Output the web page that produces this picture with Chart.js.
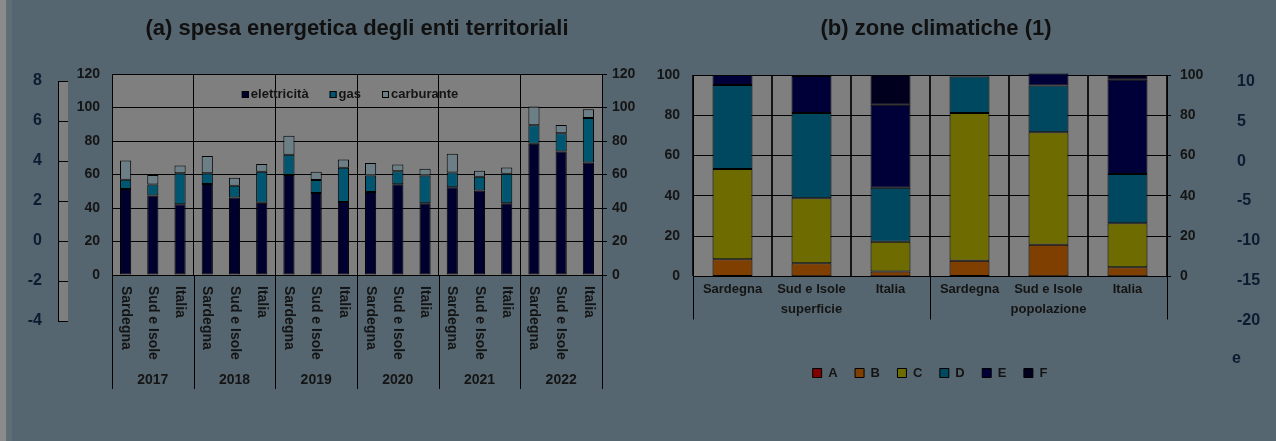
<!DOCTYPE html>
<html lang="it">
<head>
<meta charset="utf-8">
<title>Spesa energetica degli enti territoriali e zone climatiche</title>
<script src="https://cdn.jsdelivr.net/npm/chart.js@4.4.1/dist/chart.umd.min.js"></script>
<style>
  html, body { margin: 0; padding: 0; }
  body {
    width: 1276px; height: 441px; overflow: hidden; position: relative;
    background: #566670;
    font-family: "Liberation Sans", Arial, sans-serif;
  }
  .edge { position: absolute; top: 0; bottom: 0; width: 6px; }
  #edge1 { left: 0; background: #8b8b8b; }
  #edge2 { left: 6px; background: #606d75; }
  canvas { position: absolute; top: 0; }
  #scaleL { left: 0; }
  #chartA { left: 0; }
  #chartB { left: 645px; }
  #scaleR { left: 1200px; }
</style>
</head>
<body>
<div class="edge" id="edge1"></div>
<div class="edge" id="edge2"></div>
<canvas id="scaleL" width="80" height="441"></canvas>
<canvas id="chartA" width="645" height="441"></canvas>
<canvas id="chartB" width="582" height="441"></canvas>
<canvas id="scaleR" width="76" height="441"></canvas>
<script>
// (a) spesa energetica degli enti territoriali
const years = ['2017', '2018', '2019', '2020', '2021', '2022'];
const regions = ['Sardegna', 'Sud e Isole', 'Italia'];
const elettricita = [51.3, 47.4, 42.2, 54.3, 46.2, 43.2, 59.7, 49.0, 43.6, 49.6, 54.2, 42.8, 52.4, 50.4, 42.8, 78.4, 73.8, 67.2];
const gas = [5.6, 6.7, 18.5, 6.4, 7.1, 18.5, 12.1, 7.7, 20.4, 9.8, 7.8, 16.6, 8.8, 8.2, 17.6, 11.0, 10.8, 26.6];
const carburante = [11.4, 5.6, 4.6, 10.3, 4.8, 4.6, 11.4, 5.0, 5.0, 7.4, 4.0, 4.0, 11.2, 3.6, 3.8, 11.2, 5.0, 5.2];
const spesaTicks = [0, 20, 40, 60, 80, 100, 120];

// (b) zone climatiche
const zoneLabels = ['Sardegna', 'Sud e Isole', 'Italia', 'Sardegna', 'Sud e Isole', 'Italia'];
const zoneGroups = ['superficie', 'popolazione'];
const zonaA = [0, 0.1, 0.1, 0, 0.1, 0.1];
const zonaB = [8.6, 6.5, 2.4, 7.8, 15.6, 4.5];
const zonaC = [44.7, 32.2, 14.8, 73.3, 55.9, 21.8];
const zonaD = [41.7, 42.4, 26.7, 18.1, 23.2, 24.5];
const zonaE = [5.0, 18.3, 41.2, 0.8, 6.0, 46.8];
const zonaF = [0, 0.5, 14.8, 0, 0, 2.3];
const zoneTicks = [0, 20, 40, 60, 80, 100];

// side scales
const leftScaleTicks = [-4, -2, 0, 2, 4, 6, 8];
const rightScaleTicks = [-20, -15, -10, -5, 0, 5, 10];

const FONT = '"Liberation Sans", Arial, Helvetica, sans-serif';
const INK = '#141414';
const PLOT_BG = '#7f7f7f';

Chart.defaults.font.family = FONT;
Chart.defaults.font.size = 13;
Chart.defaults.font.weight = 'bold';
Chart.defaults.color = INK;
Chart.defaults.animation = false;
Chart.defaults.responsive = false;
Chart.defaults.plugins.tooltip.enabled = false;

function plotBackground(color) {
  return {
    id: 'plotBackground',
    beforeDraw(chart) {
      const a = chart.chartArea;
      const ctx = chart.ctx;
      ctx.save();
      ctx.fillStyle = color;
      ctx.fillRect(a.left, a.top, a.right - a.left, a.bottom - a.top);
      ctx.restore();
    }
  };
}

function tickRange(list) {
  return { min: list[0], max: list[list.length - 1], stepSize: list[1] - list[0] };
}

// ---------- chart (a) ----------
const categorieA = years.flatMap(() => regions);
const rA = tickRange(spesaTicks);

const decorA = {
  id: 'decorA',
  afterDraw(chart) {
    const { ctx, chartArea: a, scales: { x } } = chart;
    const step = (a.right - a.left) / categorieA.length;
    ctx.save();
    ctx.strokeStyle = '#000';
    ctx.lineWidth = 1;
    // year dividers run down through the label block
    for (let g = 0; g <= years.length; g++) {
      const px = Math.round(a.left + g * regions.length * step) + 0.5;
      ctx.beginPath();
      ctx.moveTo(px, a.bottom);
      ctx.lineTo(px, a.bottom + 114);
      ctx.stroke();
    }
    ctx.fillStyle = INK;
    ctx.font = 'bold 14px ' + FONT;
    ctx.textAlign = 'left';
    ctx.textBaseline = 'middle';
    categorieA.forEach((lab, i) => {
      ctx.save();
      ctx.translate(x.getPixelForValue(i), a.bottom + 11);
      ctx.rotate(Math.PI / 2);
      ctx.fillText(lab, 0, 0);
      ctx.restore();
    });
    ctx.textAlign = 'center';
    years.forEach((yr, g) => {
      const cx = (x.getPixelForValue(g * 3) + x.getPixelForValue(g * 3 + 2)) / 2;
      ctx.fillText(yr, cx, a.bottom + 105);
    });

    // legend sits inside the plot, along the top band
    ctx.font = 'bold 13px ' + FONT;
    const sets = chart.data.datasets;
    const box = 7, gap = 2, between = 21;
    const widths = sets.map(d => box + gap + ctx.measureText(d.label).width);
    const total = widths.reduce((s, w) => s + w, 0) + between * (sets.length - 1);
    let lx = (a.left + a.right) / 2 - 7 - total / 2;
    const ly = a.top + 20.5;
    ctx.textAlign = 'left';
    sets.forEach((d, i) => {
      ctx.fillStyle = d.backgroundColor;
      ctx.fillRect(lx, ly - box / 2, box, box);
      ctx.strokeStyle = '#000';
      ctx.strokeRect(lx + 0.5, ly - box / 2 + 0.5, box - 1, box - 1);
      ctx.fillStyle = INK;
      ctx.fillText(d.label, lx + box + gap, ly);
      lx += widths[i] + between;
    });
    ctx.restore();
  }
};

new Chart(document.getElementById('chartA'), {
  type: 'bar',
  data: {
    labels: categorieA,
    datasets: [
      { label: 'elettricità', data: elettricita, backgroundColor: '#00002e' },
      { label: 'gas', data: gas, backgroundColor: '#005670' },
      { label: 'carburante', data: carburante, backgroundColor: '#6c7f86' }
    ].map(d => Object.assign(d, {
      borderColor: '#000', borderWidth: 1, borderSkipped: false,
      barPercentage: 0.41, categoryPercentage: 1
    }))
  },
  options: {
    layout: { padding: 0 },
    plugins: {
      legend: { display: false },
      title: {
        display: true,
        fullSize: false,
        text: '(a) spesa energetica degli enti territoriali',
        color: '#101010',
        font: { size: 22, weight: 'bold' },
        padding: { top: 16, bottom: 31.6 }
      }
    },
    scales: {
      x: {
        stacked: true,
        ticks: { display: false },
        grid: {
          offset: true,
          drawTicks: false,
          color: c => (c.index !== undefined && c.index % 3 === 0) ? '#000' : 'rgba(0,0,0,0)'
        },
        border: { display: true, color: '#000' },
        afterFit: s => { s.height = 166; }
      },
      y: {
        stacked: true,
        min: rA.min, max: rA.max,
        ticks: { stepSize: rA.stepSize, padding: 12, color: INK, font: { size: 14 } },
        grid: { color: '#000', drawTicks: false },
        border: { color: '#000' },
        afterFit: s => { s.width = 112; }
      },
      y1: {
        position: 'right',
        min: rA.min, max: rA.max,
        ticks: { stepSize: rA.stepSize, padding: 5, color: INK, font: { size: 14 } },
        grid: { drawOnChartArea: false, tickLength: 5, tickColor: '#000' },
        border: { color: '#000' },
        afterFit: s => { s.width = 43; }
      }
    }
  },
  plugins: [plotBackground(PLOT_BG), decorA]
});

// ---------- chart (b) ----------
const rB = tickRange(zoneTicks);

const decorB = {
  id: 'decorB',
  afterDraw(chart) {
    const { ctx, chartArea: a } = chart;
    const half = (a.right - a.left) / zoneGroups.length;
    ctx.save();
    ctx.strokeStyle = '#000';
    ctx.lineWidth = 1;
    for (let g = 0; g <= zoneGroups.length; g++) {
      const px = Math.round(a.left + g * half) + 0.5;
      ctx.beginPath();
      ctx.moveTo(px, a.bottom);
      ctx.lineTo(px, a.bottom + 43);
      ctx.stroke();
    }
    ctx.fillStyle = INK;
    ctx.font = 'bold 13px ' + FONT;
    ctx.textAlign = 'center';
    ctx.textBaseline = 'middle';
    zoneGroups.forEach((name, g) => {
      ctx.fillText(name, a.left + (g + 0.5) * half, a.bottom + 33);
    });
    ctx.restore();
  }
};

const zoneSets = [
  { label: 'A', data: zonaA, backgroundColor: '#800000' },
  { label: 'B', data: zonaB, backgroundColor: '#7f3f00' },
  { label: 'C', data: zonaC, backgroundColor: '#6e6b00' },
  { label: 'D', data: zonaD, backgroundColor: '#00485f' },
  { label: 'E', data: zonaE, backgroundColor: '#000038' },
  { label: 'F', data: zonaF, backgroundColor: '#00001e' }
].map(d => Object.assign(d, {
  borderColor: '#000', borderWidth: 1, borderSkipped: false,
  barPercentage: 0.506, categoryPercentage: 1, clip: false
}));

new Chart(document.getElementById('chartB'), {
  type: 'bar',
  data: { labels: zoneLabels, datasets: zoneSets },
  options: {
    layout: { padding: { left: 0, right: 0, top: 0, bottom: 51.5 } },
    plugins: {
      title: {
        display: true,
        text: '(b) zone climatiche (1)',
        color: '#101010',
        font: { size: 22, weight: 'bold' },
        padding: { top: 16, bottom: 32.6 }
      },
      legend: {
        position: 'bottom',
        fullSize: false,
        labels: {
          boxWidth: 9, boxHeight: 9, padding: 17.5,
          color: INK, font: { size: 13 }
        }
      }
    },
    scales: {
      x: {
        stacked: true,
        ticks: { padding: 5, color: INK, maxRotation: 0, autoSkip: false },
        grid: { offset: true, drawTicks: false, color: '#151515', lineWidth: 2 },
        border: { display: true, color: '#000' },
        afterFit: s => { s.height = 72.5; }
      },
      y: {
        stacked: true,
        min: rB.min, max: rB.max,
        ticks: { stepSize: rB.stepSize, padding: 13, color: INK, font: { size: 14 } },
        grid: { color: '#000', drawTicks: false },
        border: { color: '#000' },
        afterFit: s => { s.width = 48; }
      },
      y1: {
        position: 'right',
        min: rB.min, max: rB.max,
        ticks: { stepSize: rB.stepSize, padding: 9, color: INK, font: { size: 14 } },
        grid: { drawOnChartArea: false, tickLength: 4, tickColor: '#000' },
        border: { color: '#000' },
        afterFit: s => { s.width = 60; }
      }
    }
  },
  plugins: [plotBackground(PLOT_BG), decorB]
});

// ---------- side scales ----------
const rL = tickRange(leftScaleTicks);
new Chart(document.getElementById('scaleL'), {
  type: 'bar',
  data: { labels: [], datasets: [] },
  options: {
    layout: { padding: { left: 0, right: 12, top: 81, bottom: 120 } },
    plugins: { legend: { display: false } },
    scales: {
      x: { display: false },
      y: {
        min: rL.min, max: rL.max,
        ticks: { stepSize: rL.stepSize, padding: 16, color: '#0e1a30', font: { size: 16, weight: 'bold' } },
        grid: { color: '#000', drawTicks: false },
        border: { color: '#000' },
        afterFit: s => { s.width = 58; }
      }
    }
  },
  plugins: [plotBackground(PLOT_BG)]
});

const rR = tickRange(rightScaleTicks);
const strayNote = {
  id: 'strayNote',
  afterDraw(chart) {
    const ctx = chart.ctx;
    ctx.save();
    ctx.fillStyle = '#0e1a30';
    ctx.font = 'bold 16px ' + FONT;
    ctx.textBaseline = 'middle';
    ctx.fillText('e', 32, 359);
    ctx.restore();
  }
};
new Chart(document.getElementById('scaleR'), {
  type: 'bar',
  data: { labels: [], datasets: [] },
  options: {
    layout: { padding: { left: 0, right: 0, top: 81.5, bottom: 120.5 } },
    plugins: { legend: { display: false } },
    scales: {
      x: { display: false },
      y: {
        position: 'right',
        min: rR.min, max: rR.max,
        ticks: { stepSize: rR.stepSize, padding: 10, color: '#0e1a30', font: { size: 16, weight: 'bold' } },
        grid: { display: false, drawTicks: false },
        border: { display: false },
        afterFit: s => { s.width = 49; }
      }
    }
  },
  plugins: [strayNote]
});
</script>
</body>
</html>
